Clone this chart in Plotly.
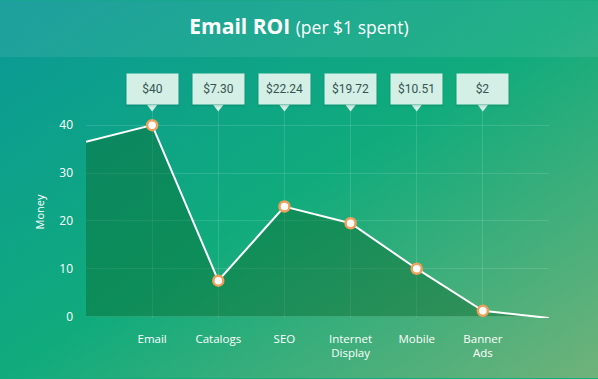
import base64
import plotly.graph_objects as go

# ---- data ----
categories = ["Email", "Catalogs", "SEO", "Internet<br>Display", "Mobile", "Banner<br>Ads"]
values = [40, 7.5, 23, 19.5, 10, 1.2]
callouts = ["$40", "$7.30", "$22.24", "$19.72", "$10.51", "$2"]
lead_in_value = 36.5
trail_value = -0.3
y_ticks = [0, 10, 20, 30, 40]

W, H = 598, 379
L, R, T, B = 86, 49, 106, 60.5
pw, ph = W - L - R, H - T - B

x_cat = list(range(1, len(categories) + 1))
x_line = [0] + x_cat + [len(categories) + 1]
y_line = [lead_in_value] + values + [trail_value]

svg = f'''<svg xmlns="http://www.w3.org/2000/svg" width="{W}" height="{H}" viewBox="0 0 {W} {H}" preserveAspectRatio="none">
<defs><linearGradient id="g" x1="0" y1="0" x2="1" y2="1">
<stop offset="0" stop-color="#0b9897"/>
<stop offset="0.5" stop-color="#10ab7c"/>
<stop offset="1" stop-color="#70b27a"/>
</linearGradient></defs>
<rect x="0" y="0" width="{W}" height="{H}" fill="url(#g)"/>
<rect x="0" y="0" width="{W}" height="57" fill="#ffffff" fill-opacity="0.08"/>
</svg>'''
src = "data:image/svg+xml;base64," + base64.b64encode(svg.encode()).decode()

fig = go.Figure()

fig.add_trace(go.Scatter(
    x=x_line, y=y_line, mode="lines",
    line=dict(color="white", width=2),
    fill="tozeroy", fillcolor="rgba(10,100,40,0.42)",
    hoverinfo="skip", showlegend=False,
))
fig.add_trace(go.Scatter(
    x=x_cat, y=values, mode="markers",
    marker=dict(color="white", size=10, line=dict(color="#f0a05a", width=2.5)),
    showlegend=False,
))
# callout pointers
fig.add_trace(go.Scatter(
    x=x_cat, y=[43.8] * len(x_cat), mode="markers", cliponaxis=False,
    marker=dict(symbol="triangle-down", color="#d3efe6", size=9, line=dict(width=0)),
    hoverinfo="skip", showlegend=False,
))

for xc, txt in zip(x_cat, callouts):
    # soft shadow
    fig.add_annotation(
        x=xc, xref="x", y=1, yref="paper", yanchor="bottom", yshift=-1,
        text="", showarrow=False, width=53, height=31, borderpad=0,
        bgcolor="rgba(0,60,40,0.12)",
    )
    fig.add_annotation(
        x=xc, xref="x", y=1, yref="paper", yanchor="bottom", yshift=1,
        text=txt, showarrow=False, width=51, height=30, borderpad=0,
        bgcolor="#d3efe6", font=dict(family="Roboto", size=12, color="#36544f"),
    )

fig.add_layout_image(
    source=src, xref="paper", yref="paper",
    x=-L / pw, y=1 + T / ph, sizex=W / pw, sizey=H / ph,
    xanchor="left", yanchor="top", sizing="stretch", layer="below",
)

grid = "rgba(255,255,255,0.13)"
fig.update_layout(
    width=W, height=H,
    margin=dict(l=L, r=R, t=T, b=B),
    paper_bgcolor="#10ab7c", plot_bgcolor="rgba(0,0,0,0)",
    title=dict(
        text="<b>Email ROI</b> <span style='font-size:17.5px'>(per $1 spent)</span>",
        x=0.5, xref="container", xanchor="center", y=1 - 27 / H, yanchor="middle",
        font=dict(family="Open Sans", size=21, color="white"),
    ),
    xaxis=dict(
        range=[0, len(categories) + 1], tickvals=[0] + x_cat, ticktext=[""] + categories,
        showgrid=True, gridcolor=grid, gridwidth=1, zeroline=False, showline=False,
        ticks="", ticklabelstandoff=12,
        tickfont=dict(family="Open Sans", size=11.5, color="white"),
        fixedrange=True,
    ),
    yaxis=dict(
        range=[trail_value, 44], tickvals=y_ticks,
        showgrid=True, gridcolor=grid, gridwidth=1, zeroline=False, showline=False,
        ticks="", ticklabelstandoff=12,
        tickfont=dict(family="Open Sans", size=12, color="white"),
        title=dict(text="Money", standoff=12, font=dict(family="Open Sans", size=11, color="white")),
    ),
    hovermode=False,
)

fig.write_html("out.html", config={"displayModeBar": False},
               post_script="document.body.style.margin='0';")
